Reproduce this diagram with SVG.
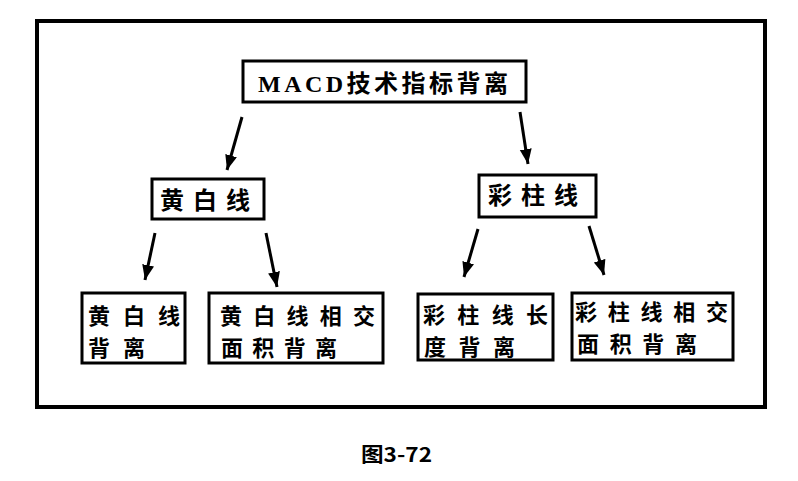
<svg xmlns="http://www.w3.org/2000/svg" width="798" height="481" viewBox="0 0 798 481">
<style>
.box{fill:#fff;stroke:#000;stroke-width:3}
.cjk{font-family:"Noto Sans CJK SC","Noto Sans CJK TC",sans-serif;font-weight:700;font-size:24px;fill:#000}
.two{font-size:22px}
.mix{font-family:"Liberation Serif","Noto Sans CJK SC",serif;font-weight:700;font-size:24px;fill:#000}
.conn{stroke:#000;stroke-width:3;fill:none;marker-end:url(#ah)}
</style>
<defs>
<marker id="ah" markerUnits="userSpaceOnUse" markerWidth="16" markerHeight="14" refX="15" refY="6" orient="auto">
<path d="M0,0 L15,6 L0,12 Z" fill="#000"/>
</marker>
</defs>
<rect width="798" height="481" fill="#fff"/>
<rect id="frame" x="37" y="21" width="728" height="386" fill="none" stroke="#000" stroke-width="4"/>
<g id="root">
<rect class="box" x="243" y="61" width="283" height="41"/>
<text class="mix" x="258" y="92" textLength="250" lengthAdjust="spacing">MACD技术指标背离</text>
</g>
<g id="n-hbx">
<rect class="box" x="152" y="179" width="112" height="40"/>
<text class="cjk" x="160" y="209" textLength="90" lengthAdjust="spacing">黄白线</text>
</g>
<g id="n-czx">
<rect class="box" x="479" y="175" width="117" height="42"/>
<text class="cjk" x="488" y="204" textLength="90" lengthAdjust="spacing">彩柱线</text>
</g>
<g id="n-hbxbl">
<rect class="box" x="82" y="293" width="103" height="70"/>
<text class="cjk two"><tspan x="88" y="324" textLength="92" lengthAdjust="spacing">黄白线</tspan><tspan x="88" y="356" textLength="57" lengthAdjust="spacing">背离</tspan></text>
</g>
<g id="n-hbxxj">
<rect class="box" x="209" y="293" width="174" height="70"/>
<text class="cjk two"><tspan x="220" y="324" textLength="155" lengthAdjust="spacing">黄白线相交</tspan><tspan x="221" y="356" textLength="116" lengthAdjust="spacing">面积背离</tspan></text>
</g>
<g id="n-czxcd">
<rect class="box" x="418" y="294" width="135" height="66"/>
<text class="cjk two"><tspan x="423" y="323" textLength="125" lengthAdjust="spacing">彩柱线长</tspan><tspan x="424" y="355" textLength="91" lengthAdjust="spacing">度背离</tspan></text>
</g>
<g id="n-czxxj">
<rect class="box" x="572" y="293" width="161" height="67"/>
<text class="cjk two"><tspan x="575" y="320" textLength="153" lengthAdjust="spacing">彩柱线相交</tspan><tspan x="577" y="352" textLength="120" lengthAdjust="spacing">面积背离</tspan></text>
</g>
<g id="connectors">
<line class="conn" x1="242" y1="117" x2="227" y2="170"/>
<line class="conn" x1="520" y1="112" x2="528" y2="164"/>
<line class="conn" x1="155" y1="233" x2="145" y2="280"/>
<line class="conn" x1="266" y1="233" x2="277" y2="287"/>
<line class="conn" x1="478" y1="229" x2="464" y2="277"/>
<line class="conn" x1="589" y1="226" x2="604" y2="275"/>
</g>
<text id="caption" x="361" y="462" font-family="'Noto Sans CJK SC',sans-serif" font-weight="700" font-size="20" textLength="71" lengthAdjust="spacingAndGlyphs">图3-72</text>
</svg>
